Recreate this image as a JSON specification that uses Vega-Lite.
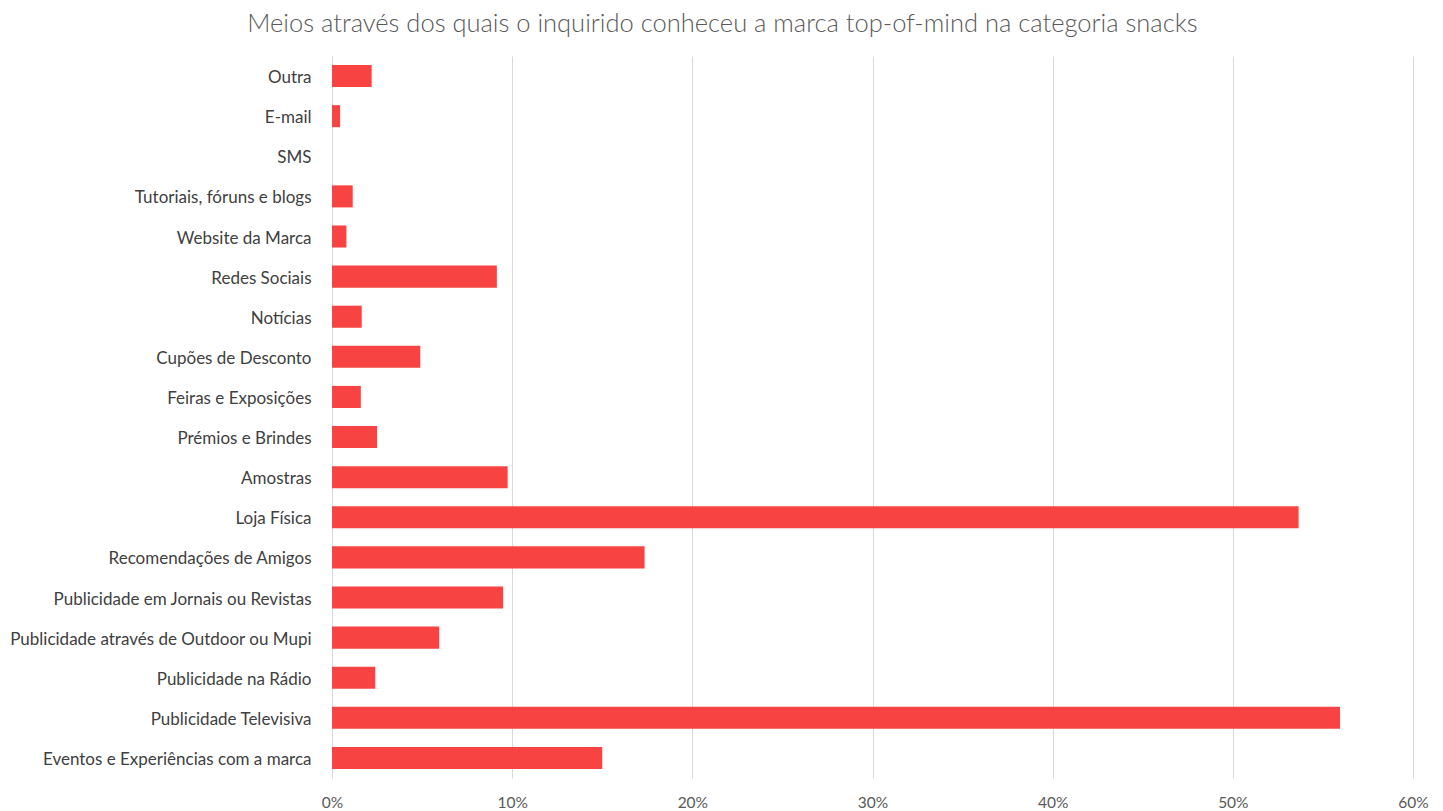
{
  "$schema": "https://vega.github.io/schema/vega-lite/v6.json",
  "autosize": {"type": "none"},
  "padding": {"left": 332, "top": 56, "right": 30, "bottom": 33},
  "width": 1081,
  "height": 722,
  "background": "white",
  "title": {
    "text": "Meios através dos quais o inquirido conheceu a marca top-of-mind na categoria snacks",
    "font": "Lato",
    "fontSize": 25.5,
    "fontWeight": 300,
    "color": "#595959",
    "anchor": "middle",
    "dx": -150,
    "offset": 19
  },
  "data": {
    "values": [
      {"meio": "Outra", "valor": 0.022},
      {"meio": "E-mail", "valor": 0.0045},
      {"meio": "SMS", "valor": 0},
      {"meio": "Tutoriais, fóruns e blogs", "valor": 0.0115},
      {"meio": "Website da Marca", "valor": 0.008},
      {"meio": "Redes Sociais", "valor": 0.0915},
      {"meio": "Notícias", "valor": 0.0165},
      {"meio": "Cupões de Desconto", "valor": 0.049},
      {"meio": "Feiras e Exposições", "valor": 0.016},
      {"meio": "Prémios e Brindes", "valor": 0.025},
      {"meio": "Amostras", "valor": 0.0975},
      {"meio": "Loja Física", "valor": 0.5365},
      {"meio": "Recomendações de Amigos", "valor": 0.1735},
      {"meio": "Publicidade em Jornais ou Revistas", "valor": 0.095},
      {"meio": "Publicidade através de Outdoor ou Mupi", "valor": 0.0595},
      {"meio": "Publicidade na Rádio", "valor": 0.024},
      {"meio": "Publicidade Televisiva", "valor": 0.5595},
      {"meio": "Eventos e Experiências com a marca", "valor": 0.15}
    ]
  },
  "mark": {"type": "bar", "color": "#F84343"},
  "encoding": {
    "y": {
      "field": "meio",
      "type": "nominal",
      "sort": null,
      "scale": {"paddingInner": 0.45, "paddingOuter": 0.225},
      "axis": {
        "title": null,
        "labelFont": "Lato",
        "labelFontSize": 17,
        "labelColor": "#404040",
        "labelPadding": 21,
        "labelOffset": 2,
        "ticks": false,
        "domain": true,
        "domainColor": "#D9D9D9",
        "grid": false,
        "labelLimit": 400
      }
    },
    "x": {
      "field": "valor",
      "type": "quantitative",
      "scale": {"domain": [0, 0.6], "nice": false},
      "axis": {
        "title": null,
        "format": ".0%",
        "values": [0, 0.1, 0.2, 0.3, 0.4, 0.5, 0.6],
        "labelFont": "Lato",
        "labelFontSize": 15.5,
        "labelColor": "#595959",
        "labelPadding": 17,
        "labelFlush": false,
        "labelOverlap": false,
        "ticks": false,
        "domain": false,
        "grid": true,
        "gridColor": "#D9D9D9",
        "gridWidth": 1
      }
    }
  },
  "config": {"view": {"stroke": null}}
}
